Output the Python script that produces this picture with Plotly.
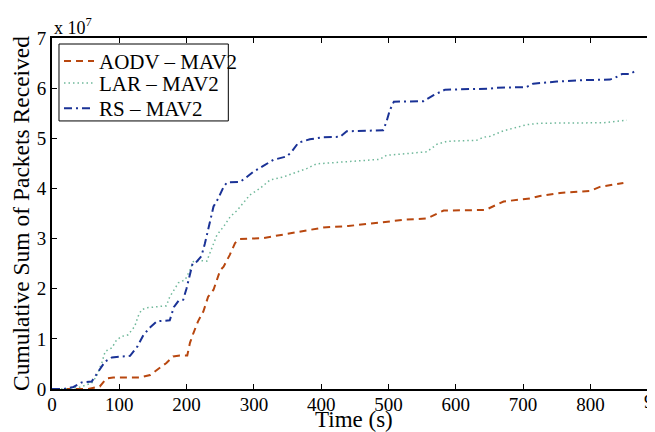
import plotly.graph_objects as go

# Time (s) and cumulative packets received (units of 1e7)
aodv_t = [0, 54, 71, 81, 91, 130, 146, 160, 170, 180, 190, 201, 205, 210, 217, 225, 232, 240,
          250, 255, 264, 272, 279, 314, 334, 349, 364, 378, 403, 440, 512, 527, 557, 582, 644,
          671, 710, 725, 755, 800, 814, 849]
aodv_v = [0, 0, 0.05, 0.21, 0.23, 0.23, 0.28, 0.42, 0.52, 0.65, 0.67, 0.67, 0.92, 1.11, 1.35, 1.55,
          1.84, 1.98, 2.37, 2.44, 2.67, 2.91, 2.99, 3.01, 3.06, 3.09, 3.12, 3.17, 3.22, 3.25, 3.37,
          3.38, 3.40, 3.56, 3.57, 3.74, 3.80, 3.85, 3.91, 3.95, 4.03, 4.11]

lar_t = [0, 17, 40, 52, 59, 66, 74, 79, 89, 96, 104, 113, 123, 128, 133, 141, 170, 175, 183, 188,
         198, 205, 210, 220, 230, 237, 245, 255, 265, 275, 284, 294, 309, 324, 344, 364, 379, 393,
         413, 440, 487, 497, 557, 572, 587, 631, 641, 651, 671, 691, 705, 725, 819, 854]
lar_v = [0, 0, 0.03, 0.09, 0.12, 0.25, 0.52, 0.75, 0.82, 0.98, 1.05, 1.08, 1.25, 1.45, 1.58, 1.62,
         1.66, 1.84, 2.01, 2.12, 2.18, 2.37, 2.54, 2.56, 2.55, 2.81, 3.07, 3.24, 3.44, 3.56, 3.70,
         3.87, 4.00, 4.17, 4.23, 4.33, 4.40, 4.49, 4.51, 4.53, 4.58, 4.66, 4.73, 4.88, 4.94, 4.96,
         5.02, 5.04, 5.15, 5.22, 5.27, 5.30, 5.31, 5.36]

rs_t = [0, 17, 32, 44, 59, 69, 79, 89, 116, 127, 136, 146, 156, 175, 181, 188, 195, 200, 205, 209,
        215, 222, 227, 235, 240, 247, 255, 260, 279, 287, 299, 314, 329, 349, 356, 366, 383, 403,
        428, 438, 492, 497, 502, 508, 552, 567, 584, 651, 661, 705, 715, 750, 790, 829, 837, 847,
        859, 869]
rs_v = [0, 0, 0.04, 0.13, 0.15, 0.35, 0.55, 0.63, 0.66, 0.85, 1.08, 1.23, 1.35, 1.37, 1.63, 1.76,
        1.78, 2.01, 2.31, 2.51, 2.54, 2.65, 2.89, 3.37, 3.64, 3.80, 4.03, 4.12, 4.13, 4.20, 4.33,
        4.45, 4.57, 4.64, 4.73, 4.91, 4.98, 5.02, 5.03, 5.14, 5.16, 5.33, 5.56, 5.73, 5.74, 5.86,
        5.97, 5.99, 6.01, 6.02, 6.09, 6.13, 6.16, 6.17, 6.21, 6.28, 6.28, 6.36]

x_ticks = [0, 100, 200, 300, 400, 500, 600, 700, 800]
y_ticks = [0, 1, 2, 3, 4, 5, 6, 7]

FONT = "'Liberation Serif', 'Times New Roman', Times, serif"

fig = go.Figure()
fig.add_trace(go.Scatter(x=aodv_t, y=aodv_v, mode="lines", name="AODV – MAV2", legend="legend",
                         line=dict(color="#b8470f", width=2, dash="7px,5px")))
fig.add_trace(go.Scatter(x=lar_t, y=lar_v, mode="lines", name="LAR – MAV2", legend="legend2",
                         line=dict(color="#6fb89a", width=1.5, dash="1.5px,3px")))
fig.add_trace(go.Scatter(x=rs_t, y=rs_v, mode="lines", name="RS – MAV2", legend="legend3",
                         line=dict(color="#1a3296", width=2, dash="8px,4px,2px,4px")))

leg_common = dict(x=0.0116, xanchor="left", yanchor="middle",
                  bgcolor="rgba(0,0,0,0)", borderwidth=0,
                  font=dict(family=FONT, size=21, color="black"), itemwidth=30)

# the page body has an 8px margin, so the figure is sized/offset to compensate
fig.update_layout(
    width=647, height=424,
    margin=dict(l=44, r=0, t=30, b=43, autoexpand=False),
    paper_bgcolor="white", plot_bgcolor="white",
    font=dict(family=FONT, size=19, color="black"),
    showlegend=True,
    legend=dict(y=0.9337, **leg_common),
    legend2=dict(y=0.8710, **leg_common),
    legend3=dict(y=0.7990, **leg_common),
    xaxis=dict(range=[0, 896], tickvals=x_ticks, ticktext=[str(v) for v in x_ticks],
               automargin=False, ticklabelstandoff=-3,
               showgrid=False, zeroline=False, showline=True, linecolor="black", linewidth=1.8,
               mirror="ticks", ticks="inside", ticklen=5, tickcolor="black", tickwidth=1,
               tickfont=dict(family=FONT, size=19, color="black")),
    yaxis=dict(range=[0, 7], tickvals=y_ticks, ticktext=[str(v) for v in y_ticks],
               automargin=False,
               showgrid=False, zeroline=False, showline=True, linecolor="black", linewidth=1.8,
               mirror=False, ticks="inside", ticklen=5, tickcolor="black", tickwidth=1,
               tickfont=dict(family=FONT, size=19, color="black"),
               title=dict(text="Cumulative Sum of Packets Received",
                          font=dict(family=FONT, size=23.5, color="black"), standoff=2)),
    shapes=[dict(type="rect", xref="paper", yref="paper", x0=0.0116, x1=0.2924,
                 y0=0.7637, y1=0.9829, line=dict(color="black", width=1),
                 fillcolor="white", layer="above")],
)

# x-axis title placed precisely
fig.add_annotation(x=0.5, xref="paper", y=0, yref="paper", xanchor="center", yanchor="middle",
                   yshift=-30, text="Time (s)", showarrow=False,
                   font=dict(family=FONT, size=23, color="black"))
# partially visible 900 tick label at the clipped right edge
fig.add_annotation(x=1.006, xref="paper", y=0, yref="paper", yanchor="top", xanchor="center",
                   yshift=0, text="900", showarrow=False,
                   font=dict(family=FONT, size=19, color="black"))
# exponent label
fig.add_annotation(x=0, xref="paper", y=1, yref="paper", xanchor="left", yanchor="bottom",
                   yshift=-2, text="x 10<sup>7</sup>", showarrow=False,
                   font=dict(family=FONT, size=18, color="black"))

fig.write_html("out.html")
